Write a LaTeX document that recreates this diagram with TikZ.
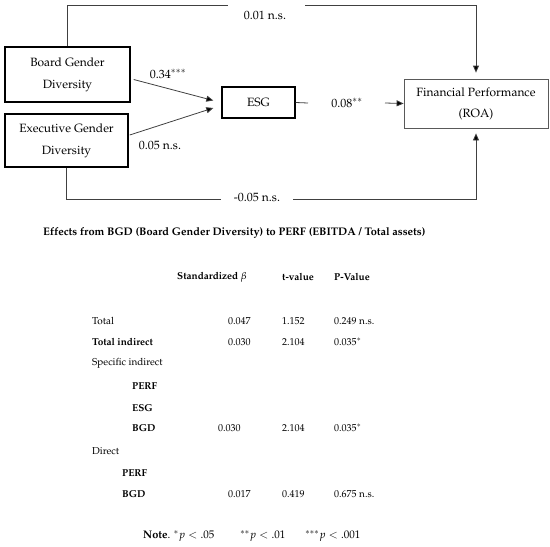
\documentclass[tikz,border=0pt]{standalone}
\usepackage[T1]{fontenc}
\usepackage{mathpazo}
\usetikzlibrary{arrows.meta,calc}
\tikzset{
  thickbox/.style={draw=black,line width=1.4pt,align=center,inner sep=0pt},
  thinbox/.style={draw=black!65,line width=0.8pt,align=center,inner sep=0pt},
  conn/.style={draw=black!75,line width=0.8pt},
  arr/.style={conn,-{Triangle[length=7pt,width=6pt,fill=black]}},
  elab/.style={font=\fontsize{12}{14}\selectfont,inner sep=1pt},
  tlab/.style={anchor=west,inner sep=0pt,font=\fontsize{10}{12}\selectfont},
  tbold/.style={tlab,font=\fontsize{10}{12}\selectfont\bfseries},
}
\begin{document}
\begin{tikzpicture}[x=1pt,y=-1pt]
\useasboundingbox (0,0) rectangle (550,547);
% boxes
\node[thickbox,minimum width=125,minimum height=55,font=\fontsize{12}{22}\selectfont] (bgd) at (67.5,74.5) {Board Gender\\Diversity};
\node[thickbox,minimum width=123,minimum height=53,font=\fontsize{12}{22}\selectfont] (egd) at (66.5,140.5) {Executive Gender\\Diversity};
\node[thickbox,minimum width=73,minimum height=31,font=\fontsize{12}{14}\selectfont] (esg) at (258.5,102.5) {ESG};
\node[thinbox,minimum width=144,minimum height=49,font=\fontsize{12}{21}\selectfont] (fp) at (476,103.5) {Financial Performance\\(ROA)};
% top path
\coordinate (t1) at (228,5);
\coordinate (t2) at (305,5);
\node[elab] (l01) at (265,15) {0.01 n.s.};
\draw[conn] (bgd.north) |- (t1);
\draw[arr,shorten >=6pt] (t2) -| (fp.north);
% bottom path
\coordinate (b1) at (221,199);
\coordinate (b2) at (293,199);
\node[elab] (l05) at (257,197) {-0.05 n.s.};
\draw[conn] (egd.south) |- (b1);
\draw[arr,shorten >=5pt] (b2) -| (fp.south);
% to ESG
\draw[arr] ($(bgd.east)+(3,5)$) -- ($(esg.west)+(-8,-2)$);
\draw[arr] ($(egd.east)+(1,-5.5)$) -- ($(esg.west)+(-8,5.5)$);
\node[elab] (l34) at (168,74) {0.34$^{***}$};
\node[elab] (l005) at (160,145) {0.05 n.s.};
% ESG -> FP
\coordinate (e1) at (308,103);
\coordinate (e2) at (385,103);
\node[elab] (l08) at (347,103) {0.08$^{**}$};
\draw[conn] (esg.east) -- (e1);
\draw[arr] (e2) -- (fp.west);
% table
\node[tbold,font=\fontsize{11}{13}\selectfont\bfseries] (title) at (43,233) {Effects from BGD (Board Gender Diversity) to PERF (EBITDA / Total assets)};
\node[tbold] (h1) at (177,277) {Standardized $\beta$};
\node[tbold] (h2) at (282,277) {t-value};
\node[tbold] (h3) at (334,277) {P-Value};
\node[tlab] (r1) at (92,321) {Total};
\node[tlab] (r1a) at (228,321) {0.047};
\node[tlab] (r1b) at (282,321) {1.152};
\node[tlab] (r1c) at (334,321) {0.249 n.s.};
\node[tbold] (r2) at (92,342) {Total indirect};
\node[tlab] (r2a) at (228,342) {0.030};
\node[tlab] (r2b) at (282,342) {2.104};
\node[tlab] (r2c) at (334,342) {0.035$^{*}$};
\node[tlab] (r3) at (92,363) {Specific indirect};
\node[tbold] (r4) at (132,386) {PERF};
\node[tbold] (r5) at (132,408) {ESG};
\node[tbold] (r6) at (132,428) {BGD};
\node[tlab] (r6a) at (218,428) {0.030};
\node[tlab] (r6b) at (282,428) {2.104};
\node[tlab] (r6c) at (334,428) {0.035$^{*}$};
\node[tlab] (r7) at (92,451) {Direct};
\node[tbold] (r8) at (122,473) {PERF};
\node[tbold] (r9) at (122,494) {BGD};
\node[tlab] (r9a) at (228,494) {0.017};
\node[tlab] (r9b) at (282,494) {0.419};
\node[tlab] (r9c) at (334,494) {0.675 n.s.};
\node[tlab,font=\fontsize{11}{13}\selectfont] (n1) at (143,536) {\textbf{Note}. $^{*}p<.05$};
\node[tlab,font=\fontsize{11}{13}\selectfont] (n2) at (240,536) {$^{**}p<.01$};
\node[tlab,font=\fontsize{11}{13}\selectfont] (n3) at (305,536) {$^{***}p<.001$};
\end{tikzpicture}
\end{document}
